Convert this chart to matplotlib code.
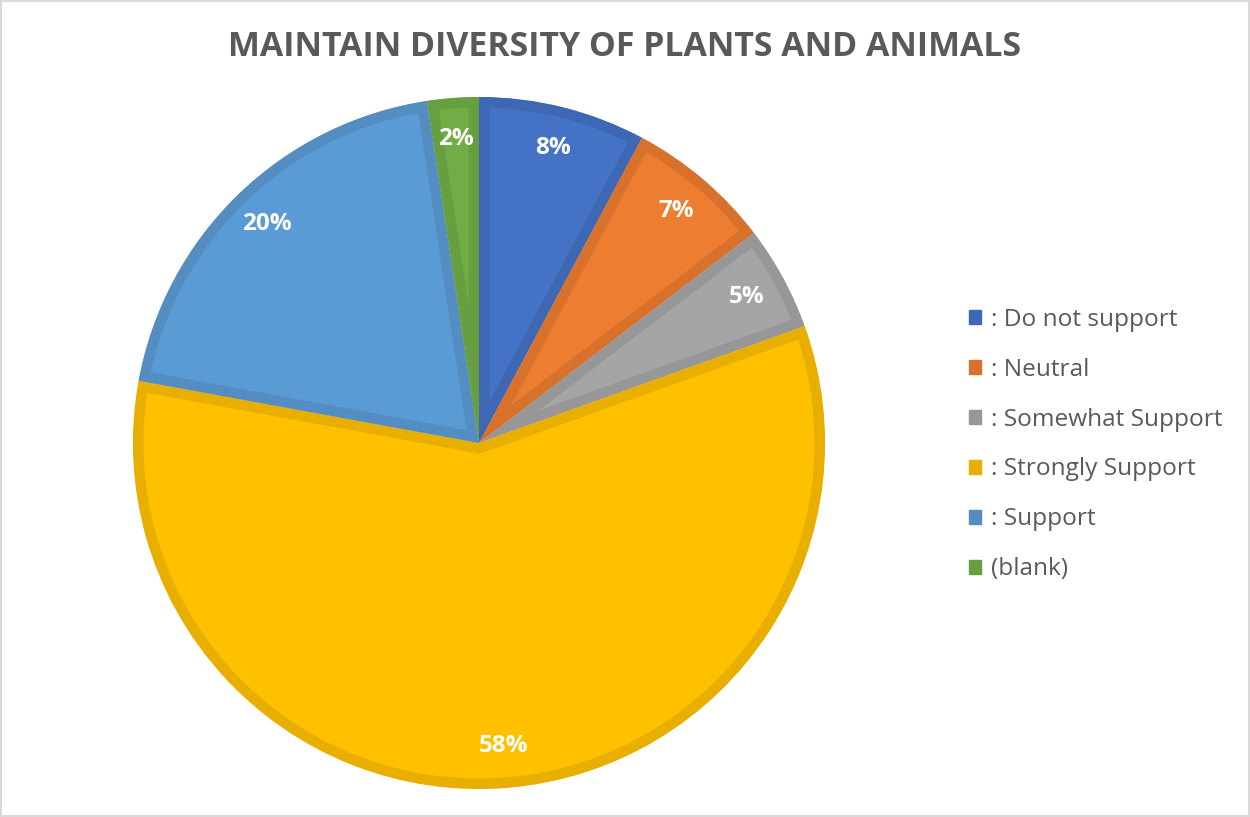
import matplotlib.pyplot as plt
from matplotlib.patches import Patch

categories = [': Do not support', ': Neutral', ': Somewhat Support',
              ': Strongly Support', ': Support', '(blank)']
values = [7.8, 6.8, 4.9, 58.3, 19.7, 2.4]
fills = ['#4472C4', '#ED7D31', '#A5A5A5', '#FFC000', '#5B9BD5', '#70AD47']
edges = ['#3F68B4', '#D8712C', '#979797', '#E8AF00', '#538DC2', '#669E40']

plt.rcParams['font.family'] = ['Open Sans', 'DejaVu Sans']

fig = plt.figure(figsize=(12.5, 8.17), dpi=100)
fig.patch.set_edgecolor('#D9D9D9')
fig.patch.set_linewidth(1.5)

ax = fig.add_axes([0.1064, 0.0343, 0.5536, 0.847])
wedges, texts, autotexts = ax.pie(
    values, colors=fills, startangle=90, counterclock=False, radius=1,
    autopct='%1.0f%%', pctdistance=0.88,
    wedgeprops=dict(linewidth=15),
    textprops=dict(color='white', fontsize=17.5, fontweight='bold'))
# inner border: stroke clipped to its own wedge
for w, ec in zip(wedges, edges):
    w.set_edgecolor(ec)
    w.set_clip_on(True)
    w.set_clip_path(w)
ax.set_xlim(-1, 1)
ax.set_ylim(-1, 1)
ax.set_aspect('equal')
ax.axis('off')

fig.text(0.5, 0.942, 'MAINTAIN DIVERSITY OF PLANTS AND ANIMALS', ha='center',
         va='center', fontsize=24.4, fontweight='bold', color='#595959')

handles = [Patch(facecolor=e, edgecolor=e) for e in edges]
fig.legend(handles, categories, loc='center left',
           bbox_to_anchor=(0.775, 1 - 444.5 / 817), frameon=False,
           fontsize=17.6, labelcolor='#595959', handlelength=0.5,
           handleheight=0.5, handletextpad=0.4, labelspacing=1.06,
           borderpad=0, borderaxespad=0)

fig.savefig('out.png', dpi=100)
